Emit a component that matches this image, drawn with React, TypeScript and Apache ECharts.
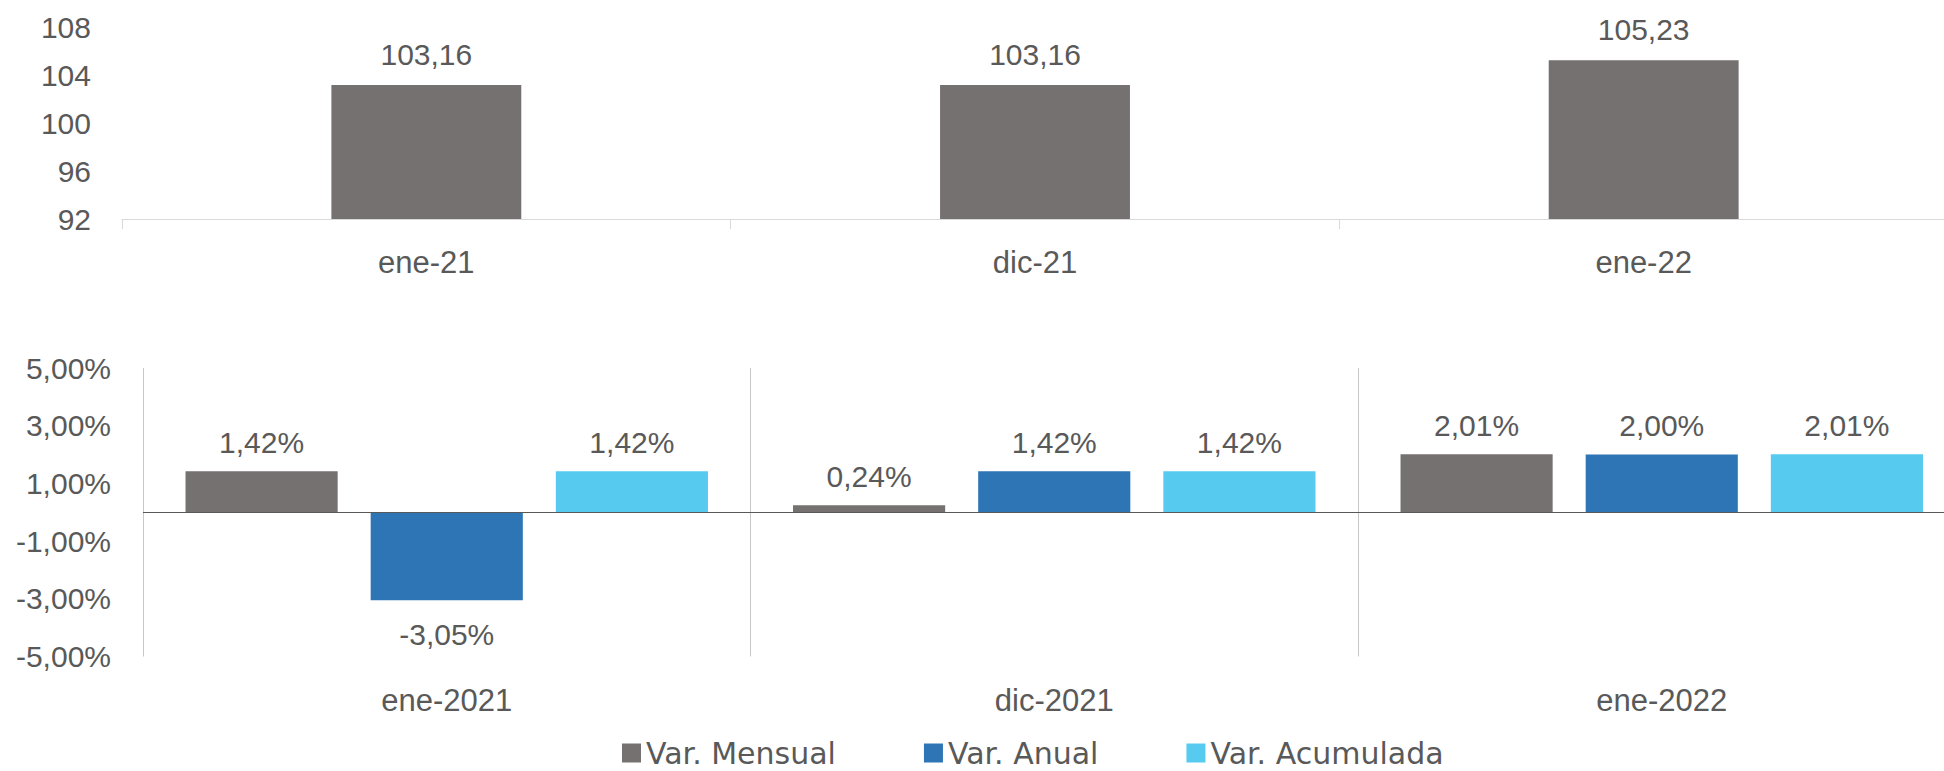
import React, { useEffect, useRef } from "react";
import * as echarts from "echarts";

const topCategories = ["ene-21", "dic-21", "ene-22"];
const topValues = [103.16, 103.16, 105.23];
const topTicks = { min: 92, max: 108, interval: 4 };

const bottomCategories = ["ene-2021", "dic-2021", "ene-2022"];
const varMensual = [1.42, 0.24, 2.01];
const varAnual = [-3.05, 1.42, 2.0];
const varAcumulada = [1.42, 1.42, 2.01];
const bottomTicks = { min: -5, max: 5, interval: 2 };

const seriesNames = ["Var. Mensual", "Var. Anual", "Var. Acumulada"];
const seriesColors = ["#767171", "#2E75B6", "#56CBEF"];

const TEXT = "#595959";
const FONT = "'Liberation Sans', Arial, sans-serif";
const LEGEND_FONT = "'DejaVu Sans', sans-serif";

const fmt = (v: number) => v.toFixed(2).replace(".", ",");

export default function App() {
  const ref = useRef<HTMLDivElement>(null);

  useEffect(() => {
    if (!ref.current) return;
    const chart = echarts.init(ref.current, undefined, { renderer: "svg" });

    const bottomSeriesData = [varMensual, varAnual, varAcumulada];

    const option: any = {
      animation: false,
      backgroundColor: "#ffffff",
      textStyle: { fontFamily: FONT, color: TEXT },
      grid: [
        { left: 122, top: 27, width: 1826, height: 192, containLabel: false, outerBoundsMode: "none" },
        { left: 143, top: 368, width: 1822.5, height: 288.5, containLabel: false, outerBoundsMode: "none" },
      ],
      legend: {
        data: seriesNames,
        left: 622,
        top: 738,
        padding: 0,
        itemWidth: 19,
        itemHeight: 19,
        itemGap: 88,
        itemTextGap: 7,
        icon: "rect",
        textStyle: { fontFamily: LEGEND_FONT, fontSize: 30, lineHeight: 30, color: TEXT },
      },
      xAxis: [
        {
          type: "category",
          gridIndex: 0,
          data: topCategories,
          axisLine: { show: true, lineStyle: { color: "#D9D9D9", width: 1 } },
          axisTick: { show: true, length: 10, lineStyle: { color: "#D9D9D9" } },
          axisLabel: { fontFamily: FONT, fontSize: 31, color: TEXT, margin: 28 },
          splitLine: { show: false },
        },
        {
          type: "category",
          gridIndex: 1,
          data: bottomCategories,
          axisLine: { show: false, onZero: false },
          axisTick: { show: false },
          axisLabel: { fontFamily: FONT, fontSize: 31, color: TEXT, margin: 28 },
          splitLine: { show: true, lineStyle: { color: "#C8C8C8", width: 1 } },
        },
      ],
      yAxis: [
        {
          type: "value",
          gridIndex: 0,
          min: topTicks.min,
          max: topTicks.max,
          interval: topTicks.interval,
          axisLine: { show: false },
          axisTick: { show: false },
          splitLine: { show: false },
          axisLabel: { fontFamily: FONT, fontSize: 30, color: TEXT, margin: 31 },
        },
        {
          type: "value",
          gridIndex: 1,
          min: bottomTicks.min,
          max: bottomTicks.max,
          interval: bottomTicks.interval,
          axisLine: { show: false },
          axisTick: { show: false },
          splitLine: { show: false },
          axisLabel: {
            fontFamily: FONT,
            fontSize: 30,
            color: TEXT,
            margin: 32,
            formatter: (v: number) => fmt(v) + "%",
          },
        },
      ],
      series: [
        {
          name: "Índice",
          type: "bar",
          xAxisIndex: 0,
          yAxisIndex: 0,
          data: topValues,
          barCategoryGap: "68.8%",
          itemStyle: { color: seriesColors[0] },
          label: {
            show: true,
            position: "top",
            distance: 16,
            fontFamily: FONT,
            fontSize: 30,
            color: TEXT,
            formatter: (p: any) => fmt(p.value),
          },
        },
        ...bottomSeriesData.map((vals, i) => ({
          name: seriesNames[i],
          type: "bar",
          xAxisIndex: 1,
          yAxisIndex: 1,
          barGap: "21.7%",
          barCategoryGap: "14%",
          itemStyle: { color: seriesColors[i] },
          data: vals.map((v) => ({
            value: v,
            label: { position: v < 0 ? "bottom" : "top", distance: v < 0 ? 19 : 14 },
          })),
          label: {
            show: true,
            fontFamily: FONT,
            fontSize: 30,
            color: TEXT,
            formatter: (p: any) => fmt(p.value) + "%",
          },
          markLine:
            i === 2
              ? {
                  silent: true,
                  symbol: ["none", "none"],
                  label: { show: false },
                  lineStyle: { color: "#595959", width: 1, type: "solid" },
                  data: [{ yAxis: 0 }],
                }
              : undefined,
          z: 2,
        })),
      ],
    };

    chart.setOption(option);
    return () => chart.dispose();
  }, []);

  return (
    <div
      ref={ref}
      style={{ position: "fixed", left: 0, top: 0, width: 1944, height: 771, background: "#fff" }}
    />
  );
}
